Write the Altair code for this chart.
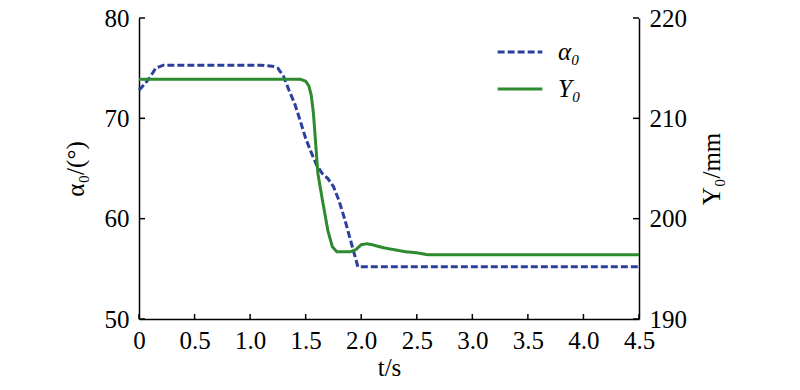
import altair as alt
import pandas as pd

# alpha_0 (left axis, degrees)
alpha_t = [0, 0.05, 0.1, 0.15, 0.22, 0.3, 1.1, 1.2, 1.25, 1.3, 1.35, 1.4, 1.45, 1.5, 1.55,
           1.6, 1.65, 1.7, 1.75, 1.8, 1.85, 1.9, 1.95, 1.97, 4.5]
alpha_v = [72.8, 73.4, 74.1, 75.0, 75.3, 75.3, 75.3, 75.2, 75.0, 74.2, 72.8, 71.5, 69.8, 68.0, 66.6,
           65.3, 64.5, 64.0, 63.2, 61.8, 60.0, 58.0, 56.0, 55.2, 55.2]

# Y_0 (right axis, mm)
y_t = [0, 1.45, 1.5, 1.53, 1.55, 1.57, 1.59, 1.61, 1.65, 1.7, 1.74, 1.78, 1.9, 1.95, 2.0,
       2.05, 2.1, 2.2, 2.3, 2.4, 2.5, 2.6, 4.5]
y_v = [213.9, 213.9, 213.7, 213.2, 212.3, 210.5, 207.5, 204.5, 201.9, 198.8, 197.2, 196.7, 196.7, 196.9, 197.4,
       197.5, 197.4, 197.1, 196.9, 196.7, 196.6, 196.4, 196.4]

x_ticks = [0, 0.5, 1.0, 1.5, 2.0, 2.5, 3.0, 3.5, 4.0, 4.5]
left_ticks = [50, 60, 70, 80]
right_ticks = [190, 200, 210, 220]

series_names = ["α₀", "Y₀"]
series_colors = ["#2b3f9c", "#2e8a2e"]
series_dash = [[7, 3], [1, 0]]

W, H = 500, 301
FONT = "Liberation Serif"
FS = 25

df_a = pd.DataFrame({"t": alpha_t, "v": alpha_v, "s": series_names[0]})
df_y = pd.DataFrame({"t": y_t, "v": y_v, "s": series_names[1]})
df_xt = pd.DataFrame({"t": x_ticks})
df_lt = pd.DataFrame({"v": left_ticks})

xscale = alt.Scale(domain=[0, 4.5], nice=False, zero=False)
color_enc = alt.Color("s:N", scale=alt.Scale(domain=series_names, range=series_colors),
                      legend=alt.Legend(title=None, orient="none", legendX=357, legendY=10,
                                        symbolType="stroke", symbolSize=2000, symbolStrokeWidth=3,
                                        labelFont=FONT, labelFontSize=FS, labelFontStyle="italic",
                                        labelColor="black", rowPadding=-16, labelOffset=14,
                                        symbolOffset=0))
dash_enc = alt.StrokeDash("s:N", scale=alt.Scale(domain=series_names, range=series_dash), legend=None)

x_axis = alt.Axis(values=x_ticks, labelExpr="datum.value == 0 ? '0' : format(datum.value, '.1f')",
                  ticks=False, grid=False, domainColor="black", domainWidth=1.5,
                  labelFont=FONT, labelFontSize=FS, labelColor="black", labelPadding=9,
                  title="t/s", titleFont=FONT, titleFontSize=FS, titleFontWeight="normal",
                  titleColor="black", titlePadding=2, labelFlush=False)

alpha_line = alt.Chart(df_a).mark_line(strokeWidth=3).encode(
    x=alt.X("t:Q", scale=xscale, axis=x_axis),
    y=alt.Y("v:Q", scale=alt.Scale(domain=[50, 80], nice=False, zero=False),
            axis=alt.Axis(values=left_ticks, orient="left", ticks=False, grid=False,
                          domainColor="black", domainWidth=1.5,
                          labelFont=FONT, labelFontSize=FS, labelColor="black", labelPadding=10,
                          title="α₀/(°)", titleFont=FONT, titleFontSize=FS, titleFontWeight="normal",
                          titleColor="black", titlePadding=16)),
    color=color_enc,
    strokeDash=dash_enc,
)

xt_rule = alt.Chart(df_xt).mark_rule(color="black", strokeWidth=1.5).encode(
    x=alt.X("t:Q", scale=xscale), y=alt.value(H), y2=alt.value(H - 5))
lt_rule = alt.Chart(df_lt).mark_rule(color="black", strokeWidth=1.5).encode(
    y=alt.Y("v:Q"), x=alt.value(0), x2=alt.value(6))
rt_rule = alt.Chart(df_lt).mark_rule(color="black", strokeWidth=1.5).encode(
    y=alt.Y("v:Q"), x=alt.value(W), x2=alt.value(W - 6))

left = alt.layer(alpha_line, xt_rule, lt_rule, rt_rule)

y_line = alt.Chart(df_y).mark_line(strokeWidth=3).encode(
    x=alt.X("t:Q", scale=xscale),
    y=alt.Y("v:Q", scale=alt.Scale(domain=[190, 220], nice=False, zero=False),
            axis=alt.Axis(values=right_ticks, orient="right", ticks=False, grid=False,
                          domainColor="black", domainWidth=1.5,
                          labelFont=FONT, labelFontSize=FS, labelColor="black", labelPadding=10,
                          title="Y₀/mm", titleFont=FONT, titleFontSize=FS, titleFontWeight="normal",
                          titleColor="black", titlePadding=38, titleAngle=270)),
    color=alt.Color("s:N", scale=alt.Scale(domain=series_names, range=series_colors)),
    strokeDash=alt.StrokeDash("s:N", scale=alt.Scale(domain=series_names, range=series_dash), legend=None),
)

chart = alt.layer(left, y_line).resolve_scale(y="independent").properties(
    width=W, height=H,
    autosize=alt.AutoSizeParams(type="none"),
    padding={"left": 131, "top": 10, "right": 153, "bottom": 63},
    background="white",
).configure_view(strokeWidth=0)

chart.save("out.html", embed_options={"renderer": "svg", "actions": False})
